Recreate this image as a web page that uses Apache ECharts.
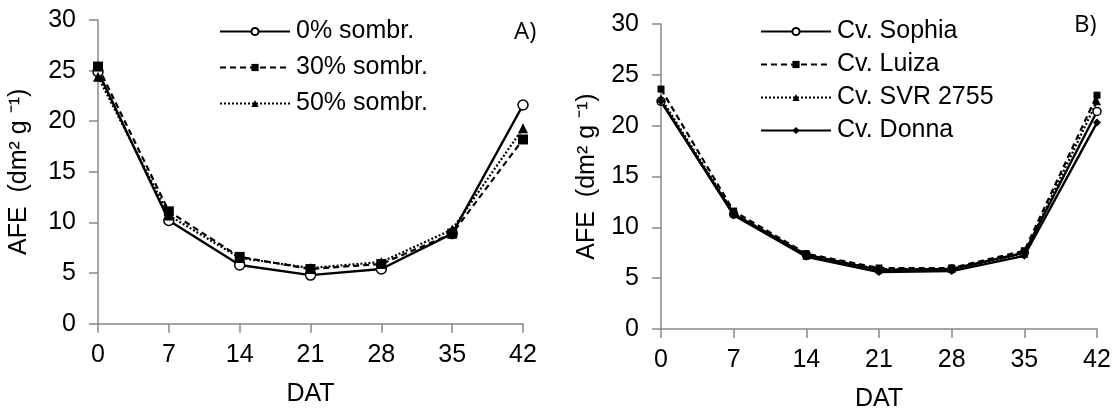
<!DOCTYPE html>
<html>
<head>
<meta charset="utf-8">
<script src="https://cdn.jsdelivr.net/npm/echarts@6/dist/echarts.min.js"></script>
<style>html,body{margin:0;padding:0;background:#fff}#c{width:1118px;height:417px}</style>
</head>
<body>
<div id="c"></div>
<script>
// ---- data ----
var days = [0, 7, 14, 21, 28, 35, 42];
var yTicks = [0, 5, 10, 15, 20, 25, 30];

// Panel A (shading)
var shade0  = [24.9, 10.2, 5.8, 4.8, 5.4, 8.9, 21.6];
var shade30 = [25.4, 11.1, 6.6, 5.4, 5.9, 8.9, 18.2];
var shade50 = [24.4, 10.7, 6.5, 5.5, 6.1, 9.3, 19.3];
var namesA = ['0% sombr.', '30% sombr.', '50% sombr.'];

// Panel B (cultivars)
var sophia = [22.4, 11.3, 7.3, 5.8, 5.9, 7.5, 21.4];
var luiza  = [23.6, 11.6, 7.4, 6.0, 6.0, 7.7, 23.0];
var svr    = [22.7, 11.4, 7.2, 5.9, 5.9, 7.4, 22.4];
var donna  = [22.4, 11.2, 7.1, 5.6, 5.7, 7.2, 20.3];
var namesB = ['Cv. Sophia', 'Cv. Luiza', 'Cv. SVR 2755', 'Cv. Donna'];

var xTitle = 'DAT';
var yTitle = 'AFE  (dm\u00B2 g \u207B\u00B9)';

// ---- chart ----
var FONT = '"Liberation Sans", Arial, sans-serif';
var FS = 25;
function pairs(v) { return days.map(function (d, i) { return [d, v[i]]; }); }

var solid = { type: 'solid', width: 2.4, color: '#000' };
var dashed = { type: [6, 4], width: 2.2, color: '#000' };
var dotted = { type: [2, 2], width: 2.2, color: '#000' };

function xAxis(gi, gap) {
  return {
    gridIndex: gi, type: 'value', min: 0, max: 42, interval: 7,
    name: xTitle, nameLocation: 'middle', nameGap: gap,
    nameTextStyle: { fontSize: FS, color: '#000', fontFamily: FONT },
    axisLine: { show: true, lineStyle: { color: '#888', width: 1.5 } },
    axisTick: { show: true, length: 9, lineStyle: { color: '#888', width: 1.5 } },
    axisLabel: { fontSize: FS, color: '#000', fontFamily: FONT, margin: 19 },
    splitLine: { show: false }
  };
}
function yAxis(gi, gap) {
  return {
    gridIndex: gi, type: 'value', min: 0, max: 30, interval: 5,
    name: yTitle, nameLocation: 'middle', nameGap: gap, nameRotate: 90,
    nameTextStyle: { fontSize: FS, color: '#000', fontFamily: FONT },
    axisLine: { show: true, lineStyle: { color: '#888', width: 1.5 } },
    axisTick: { show: true, length: 9, lineStyle: { color: '#888', width: 1.5 } },
    axisLabel: { fontSize: FS, color: '#000', fontFamily: FONT, margin: 22 },
    splitLine: { show: false }
  };
}
function ser(name, vals, gi, sym, size, ls, fill) {
  return {
    name: name, type: 'line', xAxisIndex: gi, yAxisIndex: gi,
    data: pairs(vals), symbol: sym, symbolSize: size, showSymbol: true,
    lineStyle: ls,
    itemStyle: { color: fill, borderColor: '#000', borderWidth: fill === '#fff' ? 1.5 : 0 },
    emphasis: { disabled: true }, animation: false, z: 3
  };
}
function legend(names, left, top, gap) {
  return {
    data: names, orient: 'vertical', left: left, top: top,
    itemWidth: 70, itemHeight: 9, itemGap: gap,
    textStyle: { fontSize: FS, color: '#000', fontFamily: FONT, padding: [0, 0, 0, 1] },
    selectedMode: false
  };
}

var chart = echarts.init(document.getElementById('c'), null, { renderer: 'canvas' });
chart.setOption({
  backgroundColor: '#fff',
  animation: false,
  grid: [
    { left: 98, right: 595, top: 20, bottom: 93.3, containLabel: false },
    { left: 661, right: 21, top: 24, bottom: 84.7, containLabel: false }
  ],
  xAxis: [xAxis(0, 58), xAxis(1, 58)],
  yAxis: [yAxis(0, 66), yAxis(1, 61)],
  legend: [legend(namesA, 214, 14, 11), legend(namesB, 755, 14, 8)],
  series: [
    ser(namesA[0], shade0, 0, 'circle', 10, solid, '#fff'),
    ser(namesA[1], shade30, 0, 'rect', 10, dashed, '#000'),
    ser(namesA[2], shade50, 0, 'triangle', 10, dotted, '#000'),
    ser(namesB[0], sophia, 1, 'circle', 8, solid, '#fff'),
    ser(namesB[1], luiza, 1, 'rect', 7, dashed, '#000'),
    ser(namesB[2], svr, 1, 'triangle', 8, dotted, '#000'),
    ser(namesB[3], donna, 1, 'diamond', 8, solid, '#000')
  ],
  graphic: [
    { type: 'text', left: 514, top: 20, style: { text: 'A)', fontSize: 24, fill: '#000', fontFamily: '"Open Sans", sans-serif' } },
    { type: 'text', left: 1074, top: 13, style: { text: 'B)', fontSize: 24, fill: '#000', fontFamily: '"Open Sans", sans-serif' } }
  ]
});
</script>
</body>
</html>
